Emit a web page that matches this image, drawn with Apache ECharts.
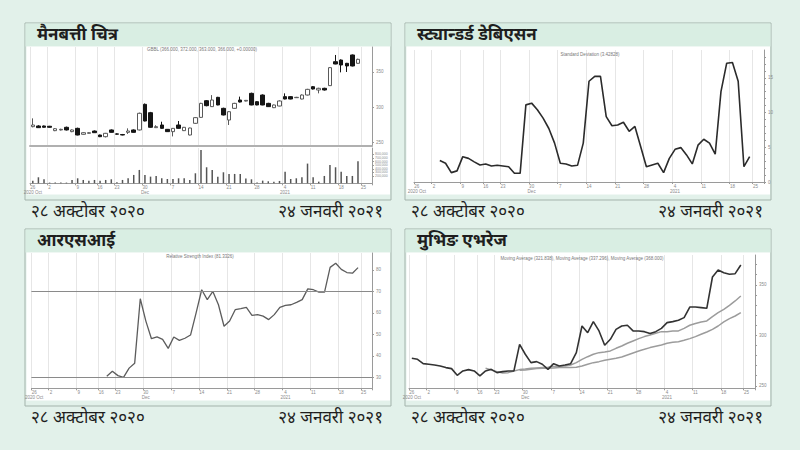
<!DOCTYPE html>
<html><head><meta charset="utf-8">
<script src="https://cdn.jsdelivr.net/npm/echarts@6/dist/echarts.min.js"></script>
<style>html,body{margin:0;padding:0;background:#e2f1ea;}#c{width:800px;height:450px;}</style>
</head><body><div id="c"></div>
<script>
// ---- data ----
const dates = ['2020-10-26','2020-10-27','2020-10-28','2020-11-02','2020-11-03','2020-11-04','2020-11-05','2020-11-08','2020-11-09','2020-11-10',
'2020-11-11','2020-11-12','2020-11-16','2020-11-18','2020-11-19','2020-11-23','2020-11-24','2020-11-25','2020-11-26','2020-11-29',
'2020-11-30','2020-12-01','2020-12-02','2020-12-03','2020-12-06','2020-12-07','2020-12-08','2020-12-09','2020-12-10','2020-12-13',
'2020-12-14','2020-12-15','2020-12-16','2020-12-17','2020-12-20','2020-12-21','2020-12-22','2020-12-23','2020-12-24','2020-12-27',
'2020-12-28','2020-12-29','2020-12-30','2020-12-31','2021-01-03','2021-01-04','2021-01-05','2021-01-06','2021-01-07','2021-01-10',
'2021-01-11','2021-01-12','2021-01-13','2021-01-14','2021-01-17','2021-01-18','2021-01-19','2021-01-20','2021-01-24','2021-01-25','2021-01-26'];
const tickDates = ['2020-10-26','2020-11-02','2020-11-09','2020-11-16','2020-11-23','2020-11-30','2020-12-07','2020-12-14','2020-12-21','2020-12-28','2021-01-04','2021-01-11','2021-01-18','2021-01-25'];
const tickText  = ['26','2','9','16','23','30','7','14','21','28','4','11','18','25'];
const tickSub   = ['2020 Oct','','','','','Dec','','','','','2021','','',''];
// candles: [open, close, low, high]
const candles = [[271.9,274.3,271.0,283.8],[272.9,270.5,270.0,274.0],[272.9,271.0,270.5,273.5],[272.5,271.0,270.5,273.0],[266.2,269.0,265.5,270.0],
[267.2,268.1,266.5,269.0],[271.0,267.2,266.5,272.0],[264.8,267.2,264.0,268.0],[269.5,260.0,259.5,270.5],[261.0,263.3,260.5,264.0],
[262.4,263.3,262.0,264.0],[265.7,263.3,263.0,266.5],[260.0,257.6,257.0,260.5],[257.6,262.4,256.5,263.0],[267.2,263.8,263.5,268.0],
[261.6,261.2,260.5,262.5],[260.7,260.0,259.5,261.5],[263.8,265.7,261.5,269.5],[267.2,263.8,263.5,268.0],[267.2,291.0,266.5,292.0],
[303.8,280.0,279.5,305.0],[291.9,271.0,270.5,293.0],[270.5,271.9,270.0,274.0],[274.3,269.5,269.0,279.0],[268.1,264.8,264.3,268.6],
[264.8,269.5,258.0,270.0],[274.3,269.5,269.0,280.0],[266.2,271.0,265.7,271.5],[260.0,270.0,259.5,270.5],[276.7,284.8,276.0,285.5],
[285.2,305.2,284.5,306.0],[309.0,301.9,301.0,310.0],[300.5,310.0,300.0,317.0],[313.8,302.9,302.5,314.5],[298.1,288.6,288.0,299.0],
[281.4,293.3,274.3,294.0],[298.1,305.2,297.5,306.0],[310.0,307.1,306.5,314.8],[308.5,309.5,308.0,310.0],[319.5,302.9,302.5,320.5],
[307.6,302.9,302.5,308.5],[317.1,302.9,302.5,318.0],[305.2,300.5,300.0,306.0],[299.0,302.9,298.5,303.5],[301.4,308.6,301.0,309.5],
[314.8,311.4,311.0,319.5],[314.8,311.4,311.0,315.5],[313.3,313.8,313.0,314.5],[311.4,317.1,311.0,318.0],[317.1,325.2,316.5,326.0],
[329.0,325.7,325.0,330.0],[324.3,326.7,319.5,327.5],[326.7,324.3,323.5,327.5],[330.5,356.2,330.0,357.0],[364.7,361.4,361.0,374.3],
[367.1,360.0,349.5,368.0],[362.4,358.6,350.0,363.0],[374.3,358.6,358.0,375.0],[362.4,368.1,362.0,369.0]];
const volumes = [74000,167000,111000,19000,19000,19000,19000,93000,139000,93000,
74000,93000,74000,93000,111000,28000,93000,139000,232000,371000,
232000,185000,204000,139000,120000,120000,139000,139000,93000,278000,
927000,445000,371000,185000,306000,260000,260000,260000,130000,111000,
19000,74000,56000,46000,65000,324000,120000,139000,167000,547000,
167000,46000,204000,510000,445000,324000,204000,204000,612000];
const stdStart = 4;
const stdDev = [3.1,2.7,1.35,1.6,3.65,3.4,2.9,2.45,2.6,2.3,2.4,2.3,2.2,1.25,1.25,11.1,11.35,10.4,9.2,7.7,
5.6,2.7,2.6,2.3,2.4,5.6,14.5,15.2,15.2,9.4,8.1,8.2,8.6,7.3,8.0,5.1,2.2,2.45,2.7,1.35,
3.4,4.7,4.95,3.9,2.6,5.3,6.15,5.6,4.0,13.0,17.1,17.2,14.5,2.2,3.65];
const rsiStart = 13;
const rsi = [30.5,32.8,30.8,30.0,34.3,36.6,66.6,56.2,48.0,48.8,47.7,43.5,48.8,47.2,48.2,49.7,60.0,70.8,66.2,70.0,
63.8,53.8,56.2,61.5,62.0,62.6,58.9,59.2,58.5,56.9,59.2,62.6,63.5,63.8,64.9,66.2,71.2,70.8,69.7,69.7,
81.2,83.1,80.3,78.8,78.5,81.1];
const rsiLevels = [70, 30];
const closeLine = [277.2,276.2,271.9,271.3,270.6,269.6,268.0,267.0,260.4,264.7,266.0,264.7,259.8,264.7,266.3,263.0,264.0,264.7,264.7,291.0,
281.2,272.9,273.9,271.3,266.3,271.9,269.6,270.6,271.9,282.8,309.2,302.6,313.5,304.3,290.1,296.0,305.9,309.2,309.9,304.3,
304.3,303.6,301.7,303.6,306.9,312.5,313.5,314.8,317.5,328.0,328.0,327.4,326.7,357.7,364.7,362.0,360.4,361.0,369.6];
const maMidStart = 13;
const maMid = [267.3,265.7,264.0,262.7,263.0,264.7,266.0,266.6,267.3,267.7,268.0,268.3,269.0,269.3,269.6,270.6,272.9,276.2,278.8,281.2,
282.8,283.5,284.5,287.1,289.4,292.1,294.4,296.7,298.7,300.3,302.0,303.6,303.6,304.3,304.3,306.9,309.9,311.6,313.2,314.2,
318.5,322.4,325.7,329.7,334.0,338.9];
const maLongStart = 19;
const maLong = [265.3,265.7,266.3,267.0,267.3,267.3,267.7,268.0,268.0,268.0,268.3,269.6,271.3,272.9,273.9,275.2,276.2,277.2,278.5,280.5,
282.5,284.5,286.1,287.8,289.1,290.4,292.1,293.1,293.7,295.0,296.7,298.7,301.0,303.3,305.9,309.2,313.2,316.5,319.1,322.4];
const priceTicks = [250, 300, 350];
const volTicks = [100000,200000,300000,400000,500000,600000,700000,800000,900000];
const rsiTicks = [30, 40, 50, 60, 70, 80];
const maTicks = [250, 300, 350];
const titles = ['मैनबत्ती चित्र', 'स्ट्यान्डर्ड डेबिएसन', 'आरएसआई', 'मुभिङ एभरेज'];
const startCaption = '२८ अक्टोबर २०२०';
const endCaption = '२४ जनवरी २०२१';

// ---- chart ----
const tickSet = new Set(tickDates);
const isTick = (i) => tickSet.has(dates[i]);
const FONT = '"Noto Sans Devanagari","Lohit Devanagari","FreeSans","Noto Sans",sans-serif';
const small = {fontSize: 4.5, color: '#8a8a8a', fontFamily: 'Arial, sans-serif'};

function xAxis(gi, labels) {
  return {
    type: 'category', gridIndex: gi, data: dates, boundaryGap: true,
    axisLine: {show: true, lineStyle: {color: '#9a9a9a', width: 1}},
    axisTick: {show: labels, interval: (i) => isTick(i), length: 2, lineStyle: {color: '#9a9a9a'}},
    axisLabel: Object.assign({show: labels, interval: (i) => isTick(i), margin: 2, lineHeight: 5,
      formatter: (v) => { const k = tickDates.indexOf(v); return tickText[k] + (tickSub[k] ? '\n' + tickSub[k] : ''); }}, small),
    splitLine: {show: true, interval: (i) => isTick(i), lineStyle: {color: '#e6e6e6', width: 1}}
  };
}
function yAxis(gi, min, max, labels, extra) {
  return Object.assign({
    type: 'value', gridIndex: gi, position: 'right', min: min, max: max, scale: true,
    axisLine: {show: true, lineStyle: {color: '#9a9a9a'}},
    axisTick: {show: true, length: 2, customValues: labels, lineStyle: {color: '#9a9a9a'}},
    axisLabel: Object.assign({customValues: labels, margin: 4}, small),
    splitLine: {show: false}
  }, extra || {});
}

const panels = [{x: 25, y: 23}, {x: 405, y: 23}, {x: 25, y: 229}, {x: 405, y: 229}];
const graphics = [];
panels.forEach((p, k) => {
  graphics.push({type: 'rect', z: -10, shape: {x: p.x, y: p.y, width: 366, height: 177}, style: {fill: '#e2f1ea', stroke: '#a3b3ab', lineWidth: 1}});
  graphics.push({type: 'rect', z: -9, shape: {x: p.x + 0.5, y: p.y + 0.5, width: 365, height: 23}, style: {fill: '#d9eee3'}});
  graphics.push({type: 'rect', z: -9, shape: {x: p.x + 1.5, y: p.y + 23.5, width: 363.5, height: 148}, style: {fill: '#ffffff'}});
  graphics.push({type: 'text', z: 10, x: p.x + 12, y: p.y + 13, style: {text: titles[k], font: 'bold 17px ' + FONT, fill: '#1e1e1e', verticalAlign: 'middle'}});
  graphics.push({type: 'text', z: 10, x: p.x + 6, y: p.y + 190, style: {text: startCaption, font: '17px ' + FONT, fill: '#1e1e1e', verticalAlign: 'middle'}});
  graphics.push({type: 'text', z: 10, x: p.x + 358, y: p.y + 190, style: {text: endCaption, font: '17px ' + FONT, fill: '#1e1e1e', verticalAlign: 'middle', align: 'right'}});
});
const subTitles = [
  {x: 202, y: 49, t: 'GBBL (366.000, 372.000, 363.000, 366.000, +0.00000)'},
  {x: 590, y: 54, t: 'Standard Deviation (3.42828)'},
  {x: 200, y: 256, t: 'Relative Strength Index (81.3326)'},
  {x: 582, y: 258, t: 'Moving Average (321.838), Moving Average (337.296), Moving Average (368.000)'}
];
subTitles.forEach(s => graphics.push({type: 'text', z: 10, x: s.x, y: s.y, style: {text: s.t, font: '4.5px Arial, sans-serif', fill: '#777', align: 'center', verticalAlign: 'middle'}}));

const grids = [
  {left: 30, top: 47, width: 342, height: 99},     // price
  {left: 30, top: 148, width: 342, height: 35.3},  // volume
  {left: 414, top: 50, width: 350, height: 132},   // std
  {left: 31.4, top: 253, width: 340.6, height: 135.3}, // rsi
  {left: 409, top: 255, width: 346, height: 133.3}    // ma
];
const xAxes = [xAxis(0, false), xAxis(1, true), xAxis(2, true), xAxis(3, true), xAxis(4, true)];
xAxes[0].axisLine = {show: true, lineStyle: {color: '#b0b0b0', width: 2}};
const yAxes = [
  yAxis(0, 244.3, 385.7, priceTicks),
  yAxis(1, 0, 980000, volTicks, {axisLabel: Object.assign({customValues: volTicks, margin: 3}, small, {fontSize: 3.5})}),
  yAxis(2, 0, 19, [0, 5, 10, 15], {axisTick: {show: true, length: 2, customValues: [0,1,2,3,4,5,6,7,8,9,10,11,12,13,14,15,16,17,18], lineStyle: {color: '#9a9a9a'}}}),
  yAxis(3, 24.9, 87.9, rsiTicks),
  yAxis(4, 247.5, 379.5, maTicks, {axisTick: {show: true, length: 2, customValues: [250,260,270,280,290,300,310,320,330,340,350,360,370], lineStyle: {color: '#9a9a9a'}}})
];

const option = {
  animation: false,
  backgroundColor: '#e2f1ea',
  graphic: graphics,
  grid: grids,
  xAxis: xAxes,
  yAxis: yAxes,
  series: [
    {type: 'candlestick', xAxisIndex: 0, yAxisIndex: 0, data: candles, barWidth: 4,
     itemStyle: {color: '#ffffff', color0: '#151515', borderColor: '#5a5a5a', borderColor0: '#151515', borderWidth: 1}},
    {type: 'bar', xAxisIndex: 1, yAxisIndex: 1, data: volumes, barWidth: 1.5, itemStyle: {color: '#555'}},
    {type: 'line', xAxisIndex: 2, yAxisIndex: 2, data: stdDev.map((v, i) => [i + stdStart, v]), symbol: 'none',
     lineStyle: {color: '#2b2b2b', width: 1.6}},
    {type: 'line', xAxisIndex: 3, yAxisIndex: 3, data: rsi.map((v, i) => [i + rsiStart, v]), symbol: 'none',
     lineStyle: {color: '#5c5c5c', width: 1.3},
     markLine: {silent: true, symbol: 'none', label: {show: false}, lineStyle: {color: '#8a8a8a', width: 1, type: 'solid'},
       data: rsiLevels.map(v => ({yAxis: v}))}},
    {type: 'line', xAxisIndex: 4, yAxisIndex: 4, data: maLong.map((v, i) => [i + maLongStart, v]), symbol: 'none',
     lineStyle: {color: '#9c9c9c', width: 1.5}},
    {type: 'line', xAxisIndex: 4, yAxisIndex: 4, data: maMid.map((v, i) => [i + maMidStart, v]), symbol: 'none',
     lineStyle: {color: '#9c9c9c', width: 1.5}},
    {type: 'line', xAxisIndex: 4, yAxisIndex: 4, data: closeLine, symbol: 'none',
     lineStyle: {color: '#333333', width: 1.6}}
  ]
};
const chart = echarts.init(document.getElementById('c'), null, {renderer: 'svg', width: 800, height: 450});
chart.setOption(option);
</script></body></html>
